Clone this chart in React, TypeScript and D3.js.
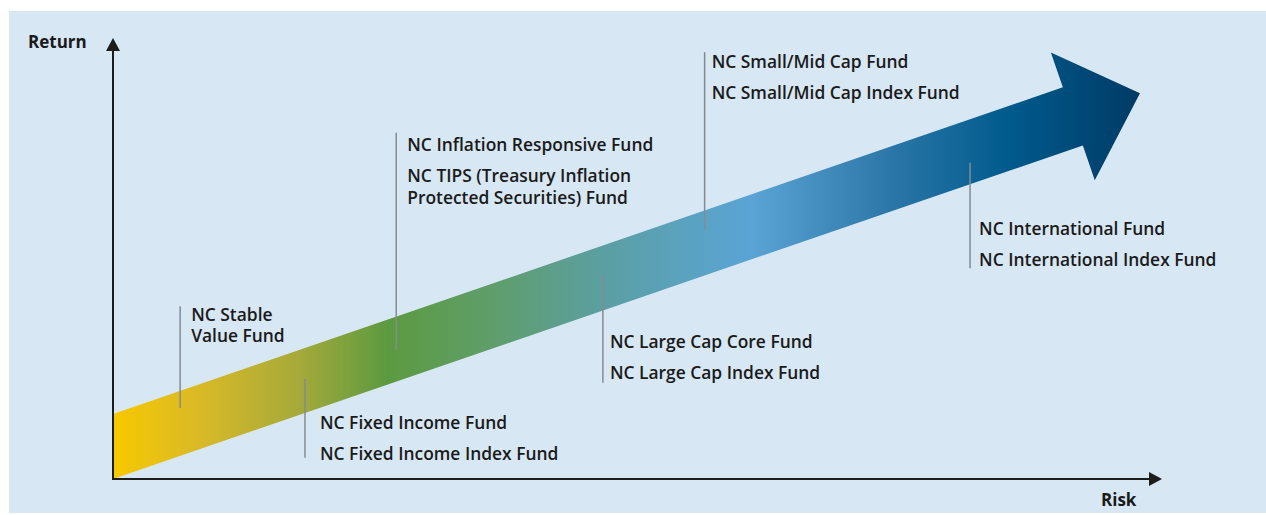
import { useMemo } from 'react'
import { line, scaleLinear } from 'd3'

// risk / return diagram: one shaded arrow climbing to the right, fund groups hung off it with leaders

const W = 1266
const H = 515

// data (risk and return on a 0-100 notional scale)
const groupNames = ['stable', 'fixed', 'inflation', 'largeCap', 'smallMid', 'international']
const groupRisk = [6.4, 18.3, 27.0, 46.7, 56.4, 81.7]
const leaderTop = [39.2, 22.7, 78.5, 46.3, 96.8, 71.7]
const leaderBottom = [16.1, 4.8, 29.3, 21.8, 56.5, 47.8]
const labelReturn = [35.9, 11.3, 74.3, 29.6, 93.2, 55.3]
const groupLabels = [
  [['NC Stable', 'Value Fund']],
  [['NC Fixed Income Fund'], ['NC Fixed Income Index Fund']],
  [['NC Inflation Responsive Fund'], ['NC TIPS (Treasury Inflation', 'Protected Securities) Fund']],
  [['NC Large Cap Core Fund'], ['NC Large Cap Index Fund']],
  [['NC Small/Mid Cap Fund'], ['NC Small/Mid Cap Index Fund']],
  [['NC International Fund'], ['NC International Index Fund']],
]
const arrowTail = { risk: 0, ret: 7.37 }
const arrowTip = { risk: 97.9, ret: 87.46 }
const gradientStops = [
  { at: 0, color: '#f7c900' },
  { at: 0.085, color: '#d9b927' },
  { at: 0.18, color: '#a6aa3a' },
  { at: 0.267, color: '#5c9a40' },
  { at: 0.377, color: '#5f9e6e' },
  { at: 0.474, color: '#5b9fa1' },
  { at: 0.62, color: '#5aa4d6' },
  { at: 0.747, color: '#2f79ab' },
  { at: 0.873, color: '#005a8c' },
  { at: 1, color: '#003b66' },
]

// layout
const X0 = 113
const X1 = 1162
const Y0 = 479
const Y1 = 38
const LABEL_DX = [11, 15, 11, 7, 7, 9]
const LINE_GAP = 21.5
const ITEM_GAP = 31
const SHAFT_W = 61.5
const HEAD_W = 135
const HEAD_L = 71
const FONT = '"Open Sans", "Noto Sans", sans-serif'

export default function App() {
  const x = useMemo(() => scaleLinear().domain([0, 100]).range([X0, X1]), [])
  const y = useMemo(() => scaleLinear().domain([0, 100]).range([Y0, Y1]), [])

  const arrowPath = useMemo(() => {
    const tx = x(arrowTail.risk), ty = y(arrowTail.ret)
    const px = x(arrowTip.risk), py = y(arrowTip.ret)
    const len = Math.hypot(px - tx, py - ty)
    const ux = (px - tx) / len, uy = (py - ty) / len
    const nx = -uy, ny = ux
    const bx = px - ux * HEAD_L, by = py - uy * HEAD_L
    // vertical tail: push the perpendicular offset back onto x = tx
    const tailOff = SHAFT_W / 2 / ux
    const pts: [number, number][] = [
      [tx, ty - tailOff],
      [bx - nx * SHAFT_W / 2, by - ny * SHAFT_W / 2],
      [bx - nx * HEAD_W / 2, by - ny * HEAD_W / 2],
      [px, py],
      [bx + nx * HEAD_W / 2, by + ny * HEAD_W / 2],
      [bx + nx * SHAFT_W / 2, by + ny * SHAFT_W / 2],
      [tx, ty + tailOff],
    ]
    return line()(pts) + 'Z'
  }, [x, y])

  return (
    <svg width={W} height={H} style={{ position: 'absolute', left: 0, top: 0 }} fontFamily={FONT}>
      <defs>
        <linearGradient id="riskGrad" gradientUnits="userSpaceOnUse" x1={x(arrowTail.risk)} x2={x(arrowTip.risk)} y1={0} y2={0}>
          {gradientStops.map((s) => (
            <stop key={s.at} offset={s.at} stopColor={s.color} />
          ))}
        </linearGradient>
      </defs>
      <rect x={9} y={11} width={W - 9} height={502} fill="#d8e7f4" />

      <path d={arrowPath} fill="url(#riskGrad)" />

      {groupNames.map((g, i) => {
        const lx = x(groupRisk[i])
        let baseline = y(labelReturn[i])
        const rows: { text: string; y: number }[] = []
        groupLabels[i].forEach((item, k) => {
          if (k > 0) baseline += ITEM_GAP
          item.forEach((t, j) => {
            if (j > 0) baseline += LINE_GAP
            rows.push({ text: t, y: baseline })
          })
        })
        return (
          <g key={g}>
            <line x1={lx} x2={lx} y1={y(leaderTop[i])} y2={y(leaderBottom[i])} stroke="#858b92" strokeWidth={1.5} />
            {rows.map((r) => (
              <text key={r.text} x={lx + LABEL_DX[i]} y={r.y} fontSize={17.4} fontWeight={600} fill="#1a1a1a">
                {r.text}
              </text>
            ))}
          </g>
        )
      })}

      {/* axes */}
      <line x1={X0} x2={X0} y1={Y0 + 1} y2={Y1 + 10} stroke="#1d1d1b" strokeWidth={2} />
      <path d={`M${X0},${Y1} L${X0 - 7},${Y1 + 13} L${X0 + 7},${Y1 + 13}Z`} fill="#1d1d1b" />
      <line x1={X0 - 1} x2={X1 - 10} y1={Y0} y2={Y0} stroke="#1d1d1b" strokeWidth={2} />
      <path d={`M${X1},${Y0} L${X1 - 13},${Y0 - 7} L${X1 - 13},${Y0 + 7}Z`} fill="#1d1d1b" />

      <text x={28} y={48} fontSize={17} fontWeight={700} fill="#1a1a1a">Return</text>
      <text x={1101} y={506} fontSize={17} fontWeight={700} fill="#1a1a1a">Risk</text>
    </svg>
  )
}
